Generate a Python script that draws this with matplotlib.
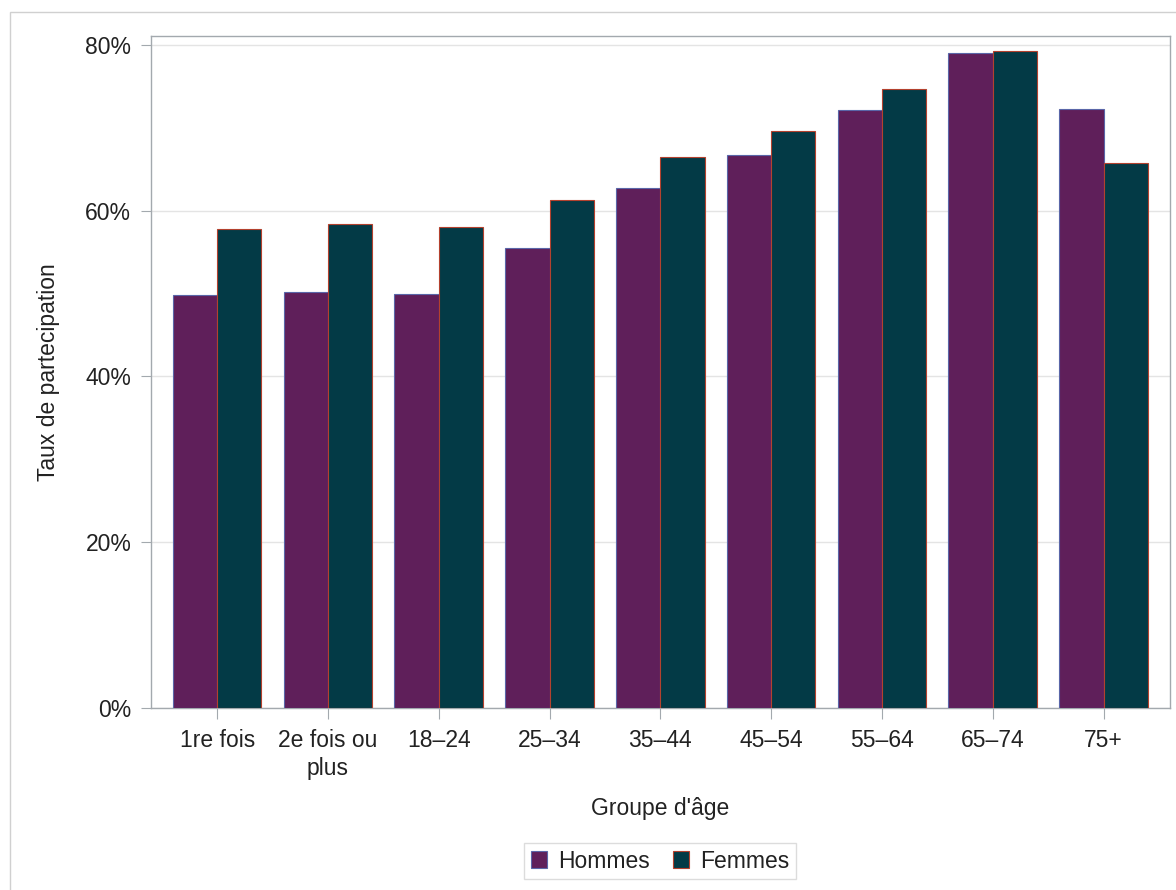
import numpy as np
import matplotlib.pyplot as plt
from matplotlib.patches import Rectangle
from matplotlib.ticker import FuncFormatter

groupes = ["1re fois", "2e fois ou\nplus", "18\u201324", "25\u201334", "35\u201344",
           "45\u201354", "55\u201364", "65\u201374", "75+"]
hommes = [49.8, 50.2, 50.0, 55.5, 62.7, 66.7, 72.1, 79.0, 72.3]
femmes = [57.8, 58.4, 58.0, 61.3, 66.5, 69.6, 74.7, 79.2, 65.8]

col_h = "#5f1f5a"
edge_h = "#5a66a8"
col_f = "#033a46"
edge_f = "#b3412e"
txt = "#222222"
frame = "#a3a9ae"

plt.rcParams['font.family'] = ['Liberation Sans', 'DejaVu Sans']
plt.rcParams['font.size'] = 16.5

fig = plt.figure(figsize=(11.76, 8.90), dpi=100)
ax = fig.add_axes([150.7 / 1176, 1 - 708 / 890, (1170 - 150.7) / 1176, (708 - 35.7) / 890])

x = np.arange(len(groupes))
w = 0.4
ax.bar(x - w / 2, hommes, w, color=col_h, edgecolor=edge_h, linewidth=0.8, label="Hommes", zorder=3)
ax.bar(x + w / 2, femmes, w, color=col_f, edgecolor=edge_f, linewidth=0.8, label="Femmes", zorder=3)

ax.set_xlim(-0.6, len(groupes) - 0.4)
ax.set_ylim(0, 81.1)
ax.set_yticks([0, 20, 40, 60, 80])
ax.yaxis.set_major_formatter(FuncFormatter(lambda v, p: f"{v:.0f}%"))
ax.set_xticks(x)
ax.set_xticklabels(groupes, linespacing=1.3)
ax.grid(axis='y', color="#e4e4e4", linewidth=1, zorder=0)
ax.set_axisbelow(True)

for s in ax.spines.values():
    s.set_color(frame)
    s.set_linewidth(1)
ax.tick_params(axis='x', length=8, color=frame, labelcolor=txt, pad=7)
ax.tick_params(axis='y', length=7, color=frame, labelcolor=txt, pad=7)

ax.set_xlabel("Groupe d'âge", color=txt, labelpad=12)
ax.set_ylabel("Taux de partecipation", color=txt, labelpad=18)

leg = fig.legend(loc='center', bbox_to_anchor=(660 / 1176, 1 - 861 / 890), ncol=2,
                 frameon=True, fancybox=False, edgecolor="#d4d4d4",
                 handlelength=0.7, handleheight=0.7, handletextpad=0.5,
                 columnspacing=1.0, borderpad=0.3)
for t in leg.get_texts():
    t.set_color(txt)
leg.get_frame().set_linewidth(1)

fig.add_artist(Rectangle((10 / 1176, -0.05), 1.0, 1.05 - 12 / 890, transform=fig.transFigure,
                         fill=False, edgecolor="#d0d0d0", linewidth=1))

fig.savefig("out.png", dpi=100)
